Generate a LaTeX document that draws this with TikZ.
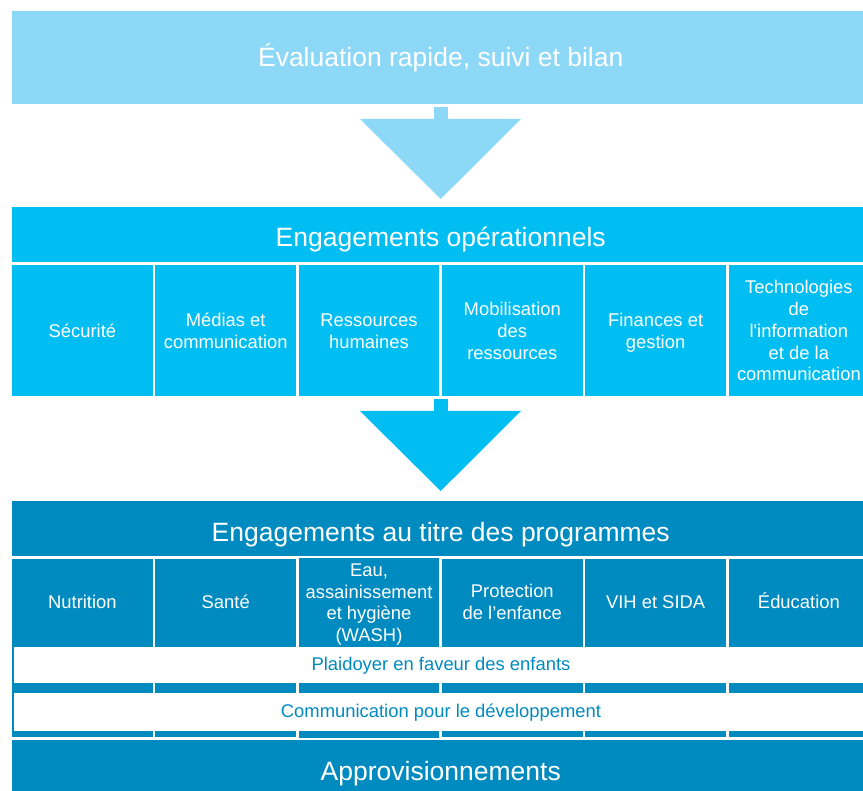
\documentclass[tikz,border=0pt]{standalone}
\usepackage{fontspec}
\setmainfont{Liberation Sans}
\definecolor{lightb}{RGB}{142,216,247}
\definecolor{cyanb}{RGB}{0,190,242}
\definecolor{darkb}{RGB}{0,139,192}
\newcommand{\cs}{\rule[-4pt]{0pt}{21.8pt}}
\begin{document}
\begin{tikzpicture}[x=1pt,y=-1pt,
  box/.style={rectangle, inner sep=0pt, outer sep=0pt, draw=none, text=white, align=center},
  big/.style={font=\fontsize{26.5}{31.8}\selectfont},
  small/.style={font=\fontsize{18.4}{21.8}\selectfont},
  opcol/.style={box, small, fill=cyanb, minimum width=140.8pt, minimum height=131pt},
  prcol/.style={box, small, fill=darkb, minimum width=140.8pt, minimum height=86pt},
  wide/.style={box, big, minimum width=857.5pt, minimum height=55pt},
  bar/.style={box, small, fill=white, text=darkb, minimum width=854pt}
]
\path[use as bounding box] (0,0) rectangle (863,791);
\clip (0,0) rectangle (863,791);

% top box
\node[box, big, fill=lightb, minimum width=857.5pt, minimum height=93pt,
      text height=25pt, text depth=6pt] (eval) at (440.75,57.5) {Évaluation rapide, suivi et bilan};

% arrow 1
\fill[lightb] (434.3,106.7) rectangle (448,119.5);
\fill[lightb] (360,119) -- (521,119) -- (440.7,199) -- cycle;

% operational commitments
\node[wide, fill=cyanb, text height=30.4pt, text depth=6pt] (ops) at (440.75,234.5) {Engagements opérationnels};
\node[opcol] (o1) at (82.4,330.5) {\cs Sécurité};
\node[opcol] (o2) at (225.7,330.5) {\cs Médias et\\\cs communication};
\node[opcol] (o3) at (369.0,330.5) {\cs Ressources\\\cs humaines};
\node[opcol] (o4) at (512.3,330.5) {\cs Mobilisation\\\cs des\\\cs ressources};
\node[opcol] (o5) at (655.6,330.5) {\cs Finances et\\\cs gestion};
\node[opcol] (o6) at (798.9,330.5) {\cs Technologies\\\cs de\\\cs l\textquotesingle information\\\cs et de la\\\cs communication};

% arrow 2
\fill[cyanb] (434.3,399) rectangle (448,411.5);
\fill[cyanb] (360,411) -- (521,411) -- (440.7,491) -- cycle;

% programme commitments
\node[wide, fill=darkb, text height=32.4pt, text depth=6pt] (prog) at (440.75,528.5) {Engagements au titre des programmes};
\node[prcol] (p1) at (82.4,602) {\cs Nutrition};
\node[prcol] (p2) at (225.7,602) {\cs Santé};
\node[prcol] (p3) at (369.0,602) {\cs Eau,\\\cs assainissement\\\cs et hygiène\\\cs (WASH)};
\node[prcol] (p4) at (512.3,602) {\cs Protection\\\cs de l’enfance};
\node[prcol] (p5) at (655.6,602) {\cs VIH et SIDA};
\node[prcol] (p6) at (798.9,602) {\cs Éducation};
\foreach \n in {p1,p2,p3,p4,p5,p6}
  \fill[darkb] (\n.south west) rectangle ++(140.8,92);

% cross-cutting bars
\node[bar, minimum height=36pt, text height=17pt, text depth=6pt] (plaid) at (441,665) {Plaidoyer en faveur des enfants};
\node[bar, minimum height=38pt, text height=17.4pt, text depth=6pt] (c4d) at (441,712) {Communication pour le développement};

% supply
\node[wide, fill=darkb, text height=31.4pt, text depth=6pt] (supply) at (440.75,767.5) {Approvisionnements};
\end{tikzpicture}
\end{document}
